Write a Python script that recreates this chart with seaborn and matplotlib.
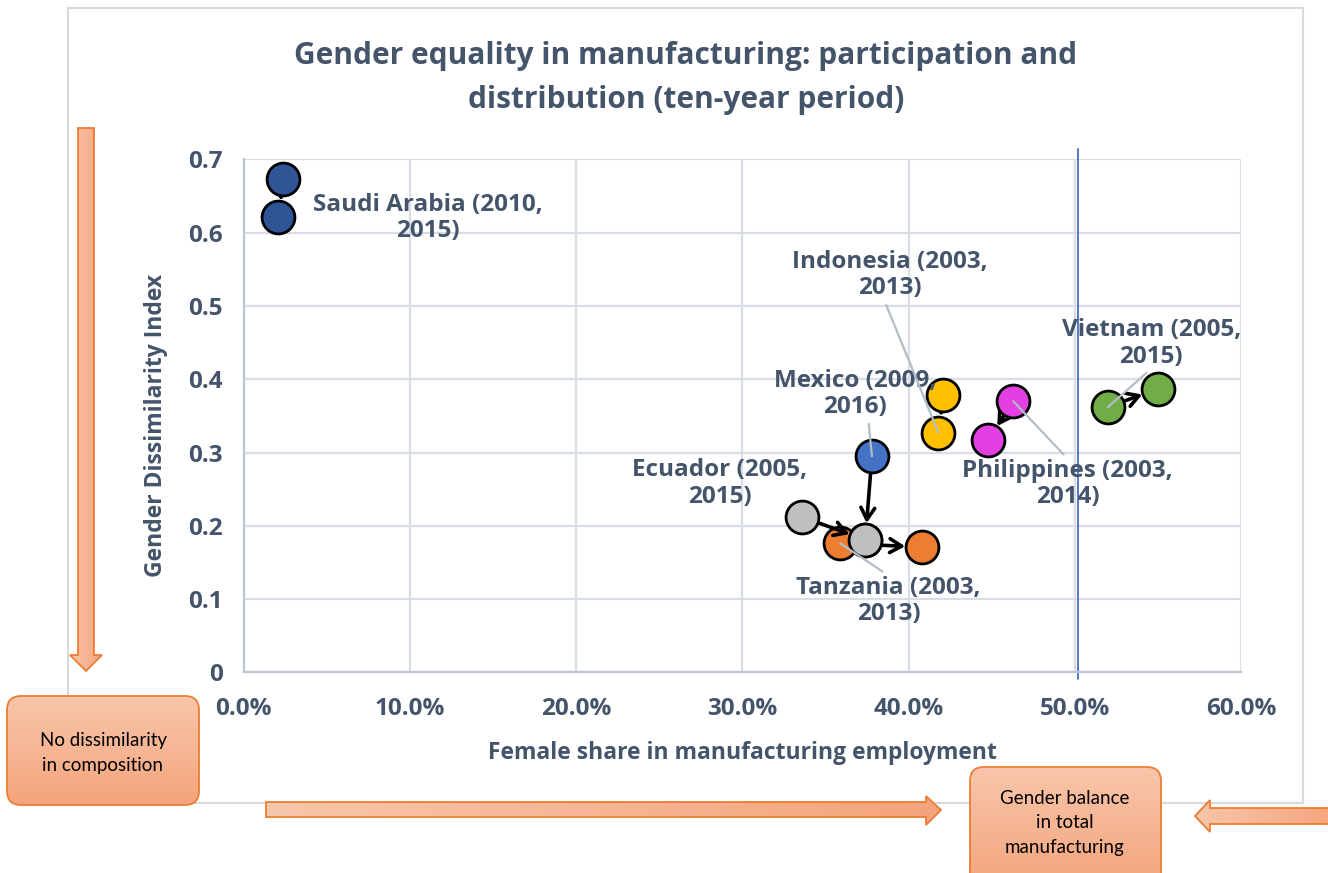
import numpy as np
import pandas as pd
import matplotlib
matplotlib.use("Agg")
import matplotlib.pyplot as plt
import seaborn as sns
from matplotlib.patches import FancyBboxPatch, Polygon, Rectangle
from matplotlib.ticker import PercentFormatter, FixedLocator, FixedFormatter
from matplotlib.colors import LinearSegmentedColormap

# ---------------- data ----------------
countries = ["Saudi Arabia", "Mexico", "Tanzania", "Ecuador", "Indonesia", "Philippines", "Vietnam"]
start_year = [2010, 2009, 2003, 2005, 2003, 2003, 2005]
end_year = [2015, 2016, 2013, 2015, 2013, 2014, 2015]
start_share = [0.024, 0.378, 0.359, 0.336, 0.421, 0.463, 0.520]
start_gdi = [0.673, 0.295, 0.176, 0.212, 0.378, 0.370, 0.362]
end_share = [0.021, 0.374, 0.408, 0.374, 0.418, 0.448, 0.550]
end_gdi = [0.621, 0.181, 0.171, 0.181, 0.327, 0.317, 0.387]
x_ticks = [0.0, 0.1, 0.2, 0.3, 0.4, 0.5, 0.6]
y_ticks = [0.0, 0.1, 0.2, 0.3, 0.4, 0.5, 0.6, 0.7]
y_tick_labels = ["0", "0.1", "0.2", "0.3", "0.4", "0.5", "0.6", "0.7"]
balance_share = 0.502

# ---------------- styles / layout ----------------
colors = ["#2F5597", "#4472C4", "#ED7D31", "#BFBFBF", "#FFC000", "#E340E3", "#70AD47"]
label_pos = [(0.111, 0.620), (0.368, 0.380), (0.388, 0.0975), (0.2865, 0.258),
             (0.389, 0.542), (0.4957, 0.257), (0.546, 0.449)]
leader_to = [None, "start", "start", None, "end", "start", "start"]
leader_relpos = [None, (0.58, 0.0), (0.5, 1.0), None, (0.47, 0.0), (0.5, 1.0), (0.5, 0.0)]
TXT = "#44546A"
LABEL_FS = 17.5

sns.set_style("whitegrid")
plt.rcParams["font.family"] = ["Open Sans", "DejaVu Sans"]

df = pd.DataFrame({
    "country": np.repeat(countries, 2),
    "share": np.ravel(np.column_stack([start_share, end_share])),
    "gdi": np.ravel(np.column_stack([start_gdi, end_gdi])),
})

W, H = 1328, 873
fig = plt.figure(figsize=(W / 100, H / 100), dpi=100)
fig.patch.set_facecolor("white")

# ---------------- background overlay (pixel coords) ----------------
bg = fig.add_axes([0, 0, 1, 1])
bg.set_facecolor("none")
bg.axis("off")

bg.add_patch(Rectangle((68, 8), 1235, 795, fill=False, edgecolor="#D9D9D9", lw=1.5))

cmap = LinearSegmentedColormap.from_list("o", ["#F8C6AB", "#F4A47C"])
grad = np.linspace(0, 1, 256)

def shape(poly_pts=None, box=None, horizontal=False):
    if box is not None:
        x, y, w, h, r = box
        p = FancyBboxPatch((x, y), w, h, boxstyle=f"round,pad=0,rounding_size={r}",
                           facecolor="none", edgecolor="#ED7D31", lw=1.3, zorder=3)
        ext = (x, x + w, y + h, y)
    else:
        pts = np.array(poly_pts, dtype=float)
        p = Polygon(pts, closed=True, facecolor="none", edgecolor="#ED7D31", lw=1.3, zorder=3)
        ext = (pts[:, 0].min(), pts[:, 0].max(), pts[:, 1].max(), pts[:, 1].min())
    bg.add_patch(p)
    img = grad[None, :] if horizontal else grad[:, None]
    im = bg.imshow(img, cmap=cmap, extent=ext, aspect="auto",
                   origin="lower" if horizontal else "upper", zorder=2)
    im.set_clip_path(p)

# down arrow
shape([(78, 128), (94, 128), (94, 655), (102, 655), (86, 671), (70, 655), (78, 655)], horizontal=True)
# right arrow
shape([(266, 802), (926, 802), (926, 796), (941, 810), (926, 825), (926, 817), (266, 817)], horizontal=True)
# left arrow (from right edge)
shape([(1340, 808), (1210, 808), (1210, 800), (1195, 816), (1210, 832), (1210, 824), (1340, 824)], horizontal=True)
# boxes
shape(box=(7, 696, 192, 109, 14))
shape(box=(970, 767, 191, 120, 14))

box_font = ["Liberation Sans Narrow", "Lato", "DejaVu Sans"]
bg.text(103, 753, "No dissimilarity\nin composition", ha="center", va="center",
        fontsize=13.5, color="black", family=box_font, linespacing=1.55, zorder=5)
bg.text(1065, 823, "Gender balance\nin total\nmanufacturing", ha="center", va="center",
        fontsize=13.5, color="black", family=box_font, linespacing=1.5, zorder=5)

bg.set_xlim(0, W)
bg.set_ylim(H, 0)

# ---------------- main axes ----------------
ax = fig.add_axes([243.5 / W, 1 - 672.4 / H, (1241 - 243.5) / W, (672.4 - 159.3) / H])
ax.set_facecolor("white")

for i, c in enumerate(countries):
    z = 3 + 2 * i
    ax.annotate("", xy=(end_share[i], end_gdi[i]), xytext=(start_share[i], start_gdi[i]),
                arrowprops=dict(arrowstyle="->,head_length=0.85,head_width=0.5", lw=2.6,
                                color="black", shrinkA=0, shrinkB=12),
                zorder=z)
    sub = df[df["country"] == c]
    sns.scatterplot(data=sub, x="share", y="gdi", color=colors[i], s=560,
                    edgecolor="black", linewidth=2, ax=ax, zorder=z + 1, legend=False)

for i, c in enumerate(countries):
    txt = f"{c} ({start_year[i]},\n{end_year[i]})"
    if leader_to[i] is None:
        ax.text(*label_pos[i], txt, ha="center", va="center", fontsize=LABEL_FS,
                fontweight="bold", color=TXT, zorder=30, linespacing=1.15)
    else:
        tgt = (start_share[i], start_gdi[i]) if leader_to[i] == "start" else (end_share[i], end_gdi[i])
        ax.annotate(txt, xy=tgt, xytext=label_pos[i], ha="center", va="center",
                    fontsize=LABEL_FS, fontweight="bold", color=TXT, zorder=30, linespacing=1.15,
                    arrowprops=dict(arrowstyle="-", color="#B4BCC6", lw=1.6,
                                    shrinkA=1, shrinkB=0, relpos=leader_relpos[i]))

ax.axvline(balance_share, ymin=-0.012, ymax=1.02, color="#4472C4", lw=1.3, clip_on=False, zorder=2)

ax.set_xlim(0, 0.6)
ax.set_ylim(0, 0.7)
ax.xaxis.set_major_locator(FixedLocator(x_ticks))
ax.xaxis.set_major_formatter(PercentFormatter(1, decimals=1))
ax.yaxis.set_major_locator(FixedLocator(y_ticks))
ax.yaxis.set_major_formatter(FixedFormatter(y_tick_labels))
ax.grid(True, color="#D9DEE6", lw=1.6)
ax.set_axisbelow(True)
for s in ["top", "right"]:
    ax.spines[s].set_visible(False)
for s in ["left", "bottom"]:
    ax.spines[s].set_color("#BCC5D3")
    ax.spines[s].set_linewidth(1.6)
ax.tick_params(axis="x", length=0, pad=18, labelsize=17.5, labelcolor=TXT)
ax.tick_params(axis="y", length=0, pad=15, labelsize=17.5, labelcolor=TXT)
for lab in ax.get_xticklabels() + ax.get_yticklabels():
    lab.set_fontweight("bold")

ax.set_xlabel("Female share in manufacturing employment", fontsize=16.5, fontweight="bold", color=TXT)
ax.set_ylabel("Gender Dissimilarity Index", fontsize=16.5, fontweight="bold", color=TXT)
ax.xaxis.set_label_coords(0.5, -0.133)
ax.yaxis.set_label_coords(-0.0757, 0.482)

fig.text(686 / W, 1 - 78 / H, "Gender equality in manufacturing: participation and\ndistribution (ten-year period)",
         ha="center", va="center", fontsize=21.5, fontweight="bold", color=TXT, linespacing=1.6)

fig.savefig("out.png", dpi=100)
